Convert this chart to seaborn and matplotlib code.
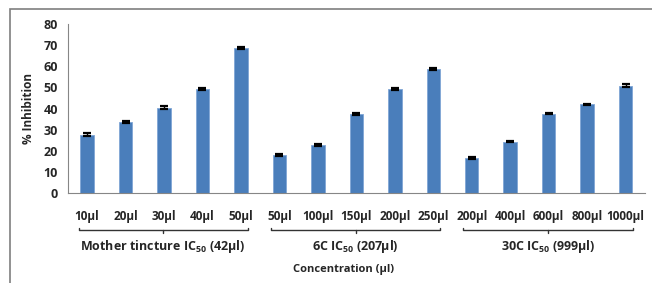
import matplotlib
matplotlib.use("Agg")
import matplotlib.pyplot as plt
import seaborn as sns
import pandas as pd
from matplotlib.patches import Rectangle
from matplotlib.transforms import blended_transform_factory

# concentrations and % inhibition
labels = ["10µl", "20µl", "30µl", "40µl", "50µl",
          "50µl", "100µl", "150µl", "200µl", "250µl",
          "200µl", "400µl", "600µl", "800µl", "1000µl"]
inhibition = [27.5, 33.6, 40.4, 49.2, 68.8,
              18.1, 22.8, 37.4, 49.1, 58.6,
              16.6, 24.3, 37.6, 42.0, 50.8]
errors = [0.7, 0.4, 0.6, 0.6, 0.5,
          0.4, 0.4, 0.3, 0.4, 0.5,
          0.4, 0.3, 0.3, 0.3, 0.6]
groups = [r"Mother tincture IC$_{50}$ (42µl)",
          r"6C IC$_{50}$ (207µl)",
          r"30C IC$_{50}$ (999µl)"]
group_size = 5

df = pd.DataFrame({"key": [f"{i:02d}" for i in range(len(labels))],
                   "inhibition": inhibition})

sns.set_style("white")
plt.rcParams["font.family"] = ["Open Sans", "DejaVu Sans"]
plt.rcParams["font.weight"] = "bold"
plt.rcParams["mathtext.fontset"] = "custom"
plt.rcParams["mathtext.rm"] = "Open Sans:bold"
plt.rcParams["mathtext.it"] = "Open Sans:bold"
plt.rcParams["mathtext.bf"] = "Open Sans:bold"

fig = plt.figure(figsize=(6.52, 2.83), dpi=100)
ax = fig.add_axes([0.104, 0.318, 0.885, 0.597])

sns.barplot(data=df, x="key", y="inhibition", color="#4A7EBB",
            saturation=1, width=0.35, errorbar=None,
            edgecolor="#7FA6D6", linewidth=0.6, ax=ax)
centers = [p.get_x() + p.get_width() / 2 for p in ax.patches]
ax.errorbar(centers, inhibition, yerr=errors, fmt="none",
            ecolor="black", elinewidth=1.0, capsize=3, capthick=1.6)

ax.set_ylim(0, 80)
ax.set_yticks(range(0, 81, 10))
ax.set_xlim(-0.5, len(labels) - 0.5)
ax.set_xticks(range(len(labels)))
ax.set_xticklabels(labels, fontsize=8.5, fontweight="bold")
ax.set_xticks([i - 0.5 for i in range(len(labels) + 1)], minor=True)
ax.tick_params(axis="x", which="major", length=0, pad=12)
ax.tick_params(axis="x", which="minor", length=4, color="#868686", width=0.8)
ax.tick_params(axis="y", length=4, color="#868686", width=0.8,
               labelsize=9, pad=3)
for t in ax.get_yticklabels():
    t.set_fontweight("bold")
ax.set_xlabel("")
ax.set_ylabel("% Inhibition", fontsize=8.5, fontweight="bold", labelpad=6)
sns.despine(ax=ax)
for s in ["left", "bottom"]:
    ax.spines[s].set_color("#868686")
    ax.spines[s].set_linewidth(0.8)

# group brackets under the tick labels
tr = blended_transform_factory(ax.transData, ax.transAxes)
for g, name in enumerate(groups):
    x0 = g * group_size - 0.22
    x1 = (g + 1) * group_size - 1 + 0.18
    xm = (x0 + x1) / 2
    yb = -0.219
    ax.plot([x0, x0, x1, x1], [yb + 0.014, yb, yb, yb + 0.014],
            color="#333333", lw=1.0, transform=tr, clip_on=False)
    ax.plot([xm, xm], [yb, yb - 0.02], color="#333333", lw=1.0,
            transform=tr, clip_on=False)
    ax.text(xm, -0.315, name, transform=tr, ha="center", va="center",
            fontsize=9, fontweight="bold")

fig.text(0.527, 0.046, "Concentration (µl)", ha="center", va="center",
         fontsize=8, fontweight="bold")

# outer frame (cut at right and bottom edges)
fig.patches.append(Rectangle((10 / 652, -0.1), 1.2, 1 - 9 / 283 + 0.1,
                             transform=fig.transFigure, fill=False,
                             edgecolor="#7F7F7F", linewidth=1.2))

fig.savefig("out.png", dpi=100)
